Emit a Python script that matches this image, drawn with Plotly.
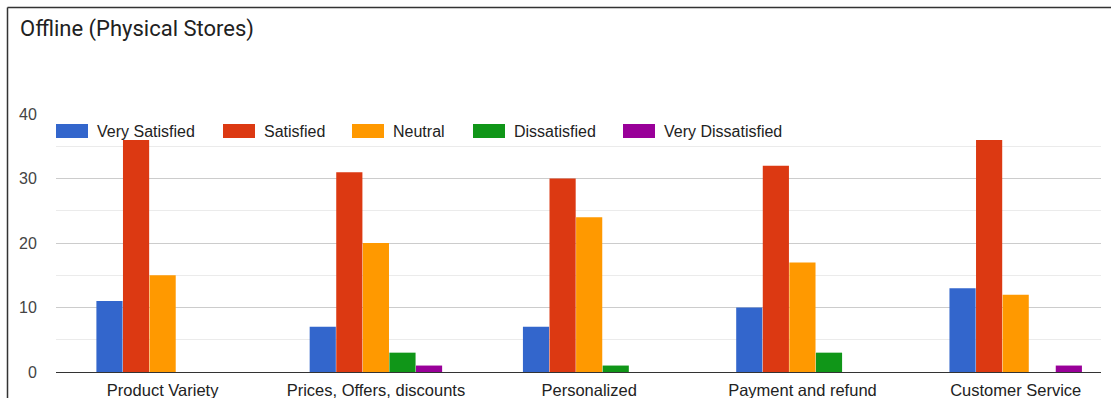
import plotly.graph_objects as go

# Survey results: satisfaction with physical stores, per aspect
categories = ["Product Variety", "Prices, Offers, discounts", "Personalized",
              "Payment and refund", "Customer Service"]
levels = ["Very Satisfied", "Satisfied", "Neutral", "Dissatisfied", "Very Dissatisfied"]
very_satisfied = [11, 7, 7, 10, 13]
satisfied = [36, 31, 30, 32, 36]
neutral = [15, 20, 24, 17, 12]
dissatisfied = [0, 3, 1, 3, 0]
very_dissatisfied = [0, 1, 0, 0, 1]
y_ticks = [0, 10, 20, 30, 40]

series = [very_satisfied, satisfied, neutral, dissatisfied, very_dissatisfied]
colors = ["#3366cc", "#dc3912", "#ff9900", "#109618", "#990099"]

W, H = 1111, 398
ML, MR, MT, MB = 56, 10, 114, 26
PW, PH = W - ML - MR, H - MT - MB

def px_x(p):
    return (p - ML) / PW

def px_y(p):
    return 1 - (p - MT) / PH

fig = go.Figure()
xs = list(range(len(categories)))
for name, vals, col in zip(levels, series, colors):
    fig.add_trace(go.Bar(x=xs, y=vals, name=name, marker_color=col,
                         marker_line_width=0, showlegend=False))

# legend drawn as wide swatches above the bars
legend_swatch_left = [56, 223, 352, 473, 623]
shapes = []
annotations = []
for name, col, lx in zip(levels, colors, legend_swatch_left):
    shapes.append(dict(type="rect", xref="paper", yref="paper",
                       x0=px_x(lx), x1=px_x(lx + 32), y0=px_y(138), y1=px_y(124),
                       fillcolor=col, line=dict(width=0), layer="above"))
    annotations.append(dict(xref="paper", yref="paper", x=px_x(lx + 39), y=px_y(131),
                            text=name, showarrow=False, xanchor="left", yanchor="middle",
                            font=dict(family="Liberation Sans, Arial", size=16, color="#222222")))

# card border (left and top edges)
shapes.append(dict(type="line", xref="paper", yref="paper",
                   x0=px_x(7.5), x1=px_x(7.5), y0=px_y(7.5), y1=px_y(400),
                   line=dict(color="#333333", width=1.5)))
shapes.append(dict(type="line", xref="paper", yref="paper",
                   x0=px_x(7.5), x1=px_x(1112), y0=px_y(7.5), y1=px_y(7.5),
                   line=dict(color="#333333", width=1.5)))

fig.update_layout(
    width=W, height=H,
    margin=dict(l=ML, r=MR, t=MT, b=MB, pad=0),
    paper_bgcolor="white", plot_bgcolor="white",
    barmode="group", bargap=0.377, bargroupgap=0.015,
    title=dict(text="Offline (Physical Stores)", x=20 / W, xanchor="left",
               y=1 - 28 / H, yanchor="middle", xref="container", yref="container",
               font=dict(family="Roboto", size=22, color="#212121")),
    shapes=shapes, annotations=annotations,
    xaxis=dict(range=[-0.5, 4.4], tickvals=xs, ticktext=categories, automargin=False,
               showgrid=False, zeroline=False, showline=True, linecolor="#333333",
               linewidth=1, ticks="outside", ticklen=3, tickcolor="rgba(0,0,0,0)",
               tickfont=dict(family="Liberation Sans, Arial", size=16.5, color="#222222")),
    yaxis=dict(range=[0, 40.02], tickvals=y_ticks, showgrid=True, gridcolor="#cccccc",
               gridwidth=1, zeroline=False, ticks="outside", ticklen=15, automargin=False,
               tickcolor="rgba(0,0,0,0)",
               minor=dict(dtick=5, showgrid=True, gridcolor="#ebebeb", gridwidth=1),
               tickfont=dict(family="Liberation Sans, Arial", size=16, color="#444444")),
)

fig.write_html("out.html")
